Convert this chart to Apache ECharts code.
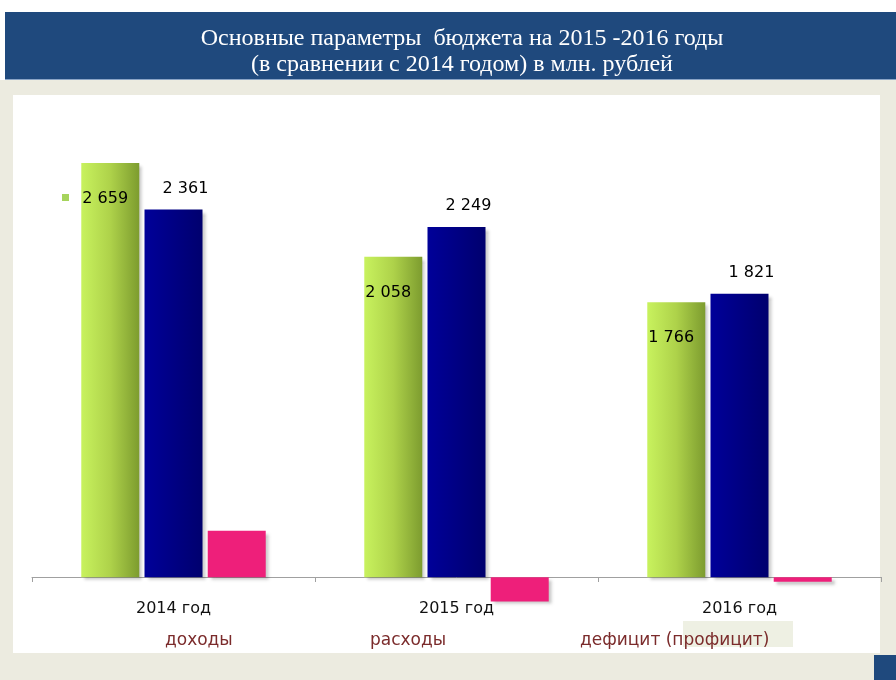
<!DOCTYPE html>
<html>
<head>
<meta charset="utf-8">
<script src="https://cdn.jsdelivr.net/npm/echarts@6/dist/echarts.min.js"></script>
<style>
    html, body { margin: 0; padding: 0; background: #fff; }
    #chart { width: 896px; height: 680px; }
</style>
</head>
<body>
<div id="chart"></div>
<script>
    // данные (млн. рублей)
    var years = ['2014 год', '2015 год', '2016 год']
    var seriesNames = ['доходы', 'расходы', 'дефицит (профицит)']
    var incomes = [2659, 2058, 1766]
    var expenses = [2361, 2249, 1821]
    var deficit = [298, -155, -28]

    var fmt = function (p) {
        return String(p.value).replace(/\B(?=(\d{3})+(?!\d))/g, ' ')
    }

    var shadow = {
        shadowColor: 'rgba(0,0,0,0.22)',
        shadowBlur: 3,
        shadowOffsetX: 3,
        shadowOffsetY: 3
    }

    var chart = echarts.init(document.getElementById('chart'))

    var legendStyle = {
        fontFamily: 'DejaVu Sans',
        fontSize: 17,
        color: '#7b2b2b'
    }

    chart.setOption({
        animation: false,
        title: {
            text: 'Основные параметры  бюджета на 2015 -2016 годы\n(в сравнении с 2014 годом) в млн. рублей',
            left: 457,
            textAlign: 'center',
            top: 21,
            textStyle: {
                fontFamily: 'Liberation Serif',
                fontWeight: 'normal',
                fontSize: 24,
                lineHeight: 26,
                color: '#ffffff',
                textShadowColor: 'rgba(0,0,0,0.35)',
                textShadowOffsetX: 1,
                textShadowOffsetY: 1
            }
        },
        graphic: [
            { type: 'rect', z: -10, shape: { x: 0, y: 80, width: 896, height: 600 }, style: { fill: '#ecebe0' } },
            { type: 'rect', z: -10, shape: { x: 5, y: 12, width: 891, height: 68 }, style: { fill: '#1f497d' } },
            { type: 'rect', z: -9, shape: { x: 5, y: 79, width: 891, height: 1 }, style: { fill: '#8aa4c6' } },
            { type: 'rect', z: -10, shape: { x: 13, y: 95, width: 867, height: 558 }, style: { fill: '#ffffff' } },
            { type: 'rect', z: -10, shape: { x: 874, y: 655, width: 22, height: 25 }, style: { fill: '#1f497d' } },
            { type: 'rect', z: -9, shape: { x: 683, y: 621, width: 110, height: 26 }, style: { fill: '#eef0e3' } },
            { type: 'rect', z: 5, shape: { x: 62, y: 194, width: 7, height: 7 }, style: { fill: '#a6d45c' } }
        ],
        legend: [
            { data: [seriesNames[0]], left: 155, top: 627, itemWidth: 0, itemHeight: 0, itemGap: 0, textStyle: legendStyle },
            { data: [seriesNames[1]], left: 360, top: 627, itemWidth: 0, itemHeight: 0, itemGap: 0, textStyle: legendStyle },
            { data: [seriesNames[2]], left: 570, top: 627, itemWidth: 0, itemHeight: 0, itemGap: 0, textStyle: legendStyle }
        ],
        grid: {
            left: 32,
            right: 15,
            top: 110,
            bottom: 56
        },
        xAxis: {
            type: 'category',
            data: years,
            // ось поднята к нулю вместе с подписями
            offset: -47,
            axisLine: { onZero: false, lineStyle: { color: '#a0a0a0', width: 1 } },
            axisTick: { show: true, length: 5, lineStyle: { color: '#a0a0a0' } },
            axisLabel: {
                margin: 24,
                fontFamily: 'DejaVu Sans',
                fontSize: 16,
                color: '#111'
            }
        },
        yAxis: {
            type: 'value',
            min: -300,
            max: 3000,
            show: false,
            splitLine: { show: false }
        },
        series: [
            {
                name: seriesNames[0],
                type: 'bar',
                data: incomes,
                barWidth: 58,
                barGap: '9%',
                itemStyle: Object.assign({
                    color: new echarts.graphic.LinearGradient(0, 0, 1, 0, [
                        { offset: 0, color: '#c8f25e' },
                        { offset: 0.5, color: '#aed24a' },
                        { offset: 1, color: '#7d9c2f' }
                    ])
                }, shadow),
                label: {
                    show: true,
                    position: 'insideTopLeft',
                    offset: [-4, 23],
                    formatter: fmt,
                    fontFamily: 'DejaVu Sans',
                    fontSize: 16,
                    color: '#000'
                }
            },
            {
                name: seriesNames[1],
                type: 'bar',
                data: expenses,
                barWidth: 58,
                barGap: '9%',
                itemStyle: Object.assign({
                    color: new echarts.graphic.LinearGradient(0, 0, 1, 0, [
                        { offset: 0, color: '#000099' },
                        { offset: 1, color: '#00006e' }
                    ])
                }, shadow),
                label: {
                    show: true,
                    position: 'top',
                    offset: [12, -8],
                    formatter: fmt,
                    fontFamily: 'DejaVu Sans',
                    fontSize: 16,
                    color: '#000'
                }
            },
            {
                name: seriesNames[2],
                type: 'bar',
                data: deficit,
                barWidth: 58,
                barGap: '9%',
                itemStyle: Object.assign({ color: '#ee1f7a' }, shadow)
            }
        ]
    })
</script>
</body>
</html>
